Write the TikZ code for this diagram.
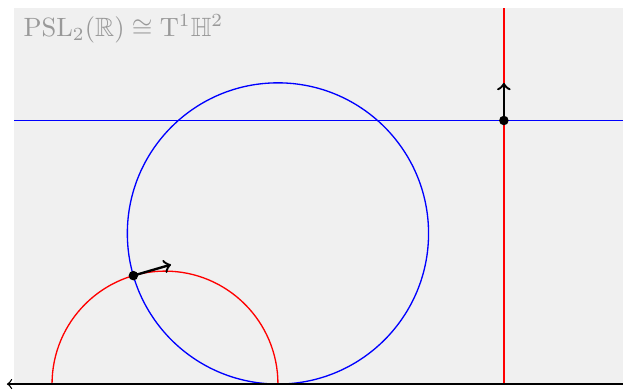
\documentclass[tikz,border=0pt]{standalone}
\usepackage{amssymb}
\usetikzlibrary{calc}
\begin{document}
\begin{tikzpicture}[x=1cm,y=1cm,
  geo/.style={line width=0.5pt},
  vec/.style={->,line width=0.9pt,black},
  dot/.style={circle,fill=black,inner sep=0pt,minimum size=3.6pt}]
\useasboundingbox (-2.191,-0.066) rectangle (6.082,5.100);
\fill[gray!12] (-2,0) rectangle (6.3,5);
% geodesics
\draw[geo,red] (-1.5,0) arc[start angle=180,end angle=0,radius=1.5];
\draw[geo,blue] (1.5,2) circle[radius=2];
\draw[geo,blue] (-2,3.5) -- (6.3,3.5);
\draw[geo,red] (4.5,0) -- (4.5,5);
% axis
\coordinate (al) at (-2.1,0);
\coordinate (ar) at (6.2,0);
\draw[<->,line width=0.5pt] (al) -- (ar);
% points and tangent vectors
\coordinate (p) at (-0.42,1.44);
\coordinate (q) at (4.5,3.5);
\coordinate (pv) at ($(p)+(0.5,0.146)$);
\coordinate (qv) at (4.5,4.0);
\draw[vec] (p) -- (pv);
\draw[vec] (q) -- (qv);
\node[dot] (pd) at (p) {};
\node[dot] (qd) at (q) {};
\node[anchor=north west,text=gray!80] (title) at (-2,5.03) {$\mathrm{PSL}_2(\mathbb{R})\cong \mathrm{T}^1\mathbb{H}^2$};
\end{tikzpicture}
\end{document}
